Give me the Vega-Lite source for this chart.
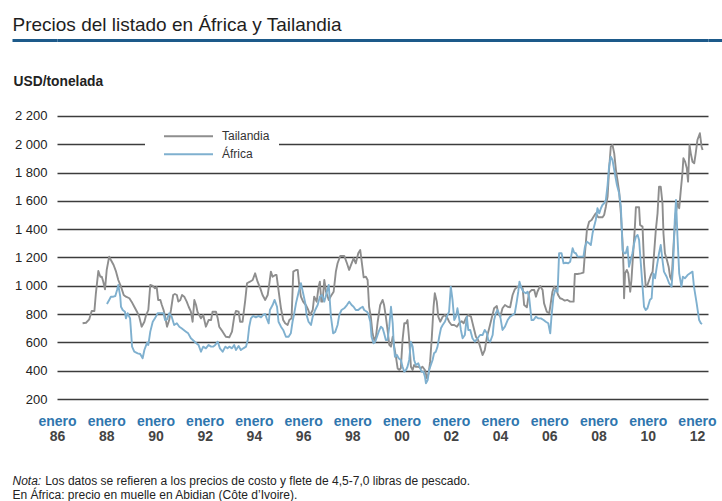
{
"$schema": "https://vega.github.io/schema/vega-lite/v6.json",
"width": 651, "height": 359,
"autosize": {"type": "none"},
"padding": {"left": 57, "top": 40, "right": 14, "bottom": 102},
"background": "white",
"config": {"view": {"stroke": null}, "font": "Liberation Sans", "axis": {"labelFont": "Liberation Sans", "titleFont": "Liberation Sans"}},
"data": {"values": [
{"s":"Tailandia","t":1987.04,"v":735},{"s":"Tailandia","t":1987.18,"v":739},{"s":"Tailandia","t":1987.31,"v":763},{"s":"Tailandia","t":1987.41,"v":822},{"s":"Tailandia","t":1987.52,"v":822},{"s":"Tailandia","t":1987.58,"v":947},{"s":"Tailandia","t":1987.68,"v":1105},{"s":"Tailandia","t":1987.76,"v":1064},{"s":"Tailandia","t":1987.82,"v":1064},{"s":"Tailandia","t":1987.88,"v":1029},{"s":"Tailandia","t":1987.95,"v":975},{"s":"Tailandia","t":1988.02,"v":1112},{"s":"Tailandia","t":1988.12,"v":1206},{"s":"Tailandia","t":1988.19,"v":1182},{"s":"Tailandia","t":1988.30,"v":1147},{"s":"Tailandia","t":1988.40,"v":1100},{"s":"Tailandia","t":1988.49,"v":1041},{"s":"Tailandia","t":1988.60,"v":994},{"s":"Tailandia","t":1988.71,"v":935},{"s":"Tailandia","t":1988.80,"v":923},{"s":"Tailandia","t":1988.94,"v":912},{"s":"Tailandia","t":1989.03,"v":888},{"s":"Tailandia","t":1989.14,"v":852},{"s":"Tailandia","t":1989.25,"v":817},{"s":"Tailandia","t":1989.34,"v":782},{"s":"Tailandia","t":1989.44,"v":711},{"s":"Tailandia","t":1989.55,"v":746},{"s":"Tailandia","t":1989.61,"v":787},{"s":"Tailandia","t":1989.71,"v":829},{"s":"Tailandia","t":1989.79,"v":1006},{"s":"Tailandia","t":1989.89,"v":999},{"s":"Tailandia","t":1989.98,"v":982},{"s":"Tailandia","t":1990.05,"v":992},{"s":"Tailandia","t":1990.11,"v":900},{"s":"Tailandia","t":1990.20,"v":900},{"s":"Tailandia","t":1990.26,"v":864},{"s":"Tailandia","t":1990.33,"v":829},{"s":"Tailandia","t":1990.40,"v":777},{"s":"Tailandia","t":1990.47,"v":711},{"s":"Tailandia","t":1990.56,"v":758},{"s":"Tailandia","t":1990.63,"v":829},{"s":"Tailandia","t":1990.72,"v":935},{"s":"Tailandia","t":1990.79,"v":942},{"s":"Tailandia","t":1990.87,"v":935},{"s":"Tailandia","t":1990.93,"v":888},{"s":"Tailandia","t":1991.01,"v":900},{"s":"Tailandia","t":1991.08,"v":935},{"s":"Tailandia","t":1991.17,"v":923},{"s":"Tailandia","t":1991.27,"v":888},{"s":"Tailandia","t":1991.35,"v":852},{"s":"Tailandia","t":1991.44,"v":817},{"s":"Tailandia","t":1991.51,"v":746},{"s":"Tailandia","t":1991.58,"v":900},{"s":"Tailandia","t":1991.65,"v":864},{"s":"Tailandia","t":1991.71,"v":815},{"s":"Tailandia","t":1991.85,"v":770},{"s":"Tailandia","t":1991.94,"v":794},{"s":"Tailandia","t":1992.05,"v":711},{"s":"Tailandia","t":1992.16,"v":758},{"s":"Tailandia","t":1992.26,"v":758},{"s":"Tailandia","t":1992.32,"v":817},{"s":"Tailandia","t":1992.46,"v":817},{"s":"Tailandia","t":1992.53,"v":770},{"s":"Tailandia","t":1992.59,"v":711},{"s":"Tailandia","t":1992.73,"v":676},{"s":"Tailandia","t":1992.86,"v":640},{"s":"Tailandia","t":1993.00,"v":636},{"s":"Tailandia","t":1993.11,"v":676},{"s":"Tailandia","t":1993.20,"v":782},{"s":"Tailandia","t":1993.27,"v":822},{"s":"Tailandia","t":1993.38,"v":817},{"s":"Tailandia","t":1993.44,"v":746},{"s":"Tailandia","t":1993.54,"v":746},{"s":"Tailandia","t":1993.65,"v":900},{"s":"Tailandia","t":1993.72,"v":1018},{"s":"Tailandia","t":1993.84,"v":1029},{"s":"Tailandia","t":1993.95,"v":1041},{"s":"Tailandia","t":1994.05,"v":1088},{"s":"Tailandia","t":1994.15,"v":1029},{"s":"Tailandia","t":1994.26,"v":982},{"s":"Tailandia","t":1994.35,"v":935},{"s":"Tailandia","t":1994.46,"v":900},{"s":"Tailandia","t":1994.56,"v":935},{"s":"Tailandia","t":1994.62,"v":1006},{"s":"Tailandia","t":1994.69,"v":1100},{"s":"Tailandia","t":1994.76,"v":1064},{"s":"Tailandia","t":1994.87,"v":1076},{"s":"Tailandia","t":1994.92,"v":1076},{"s":"Tailandia","t":1995.00,"v":970},{"s":"Tailandia","t":1995.10,"v":841},{"s":"Tailandia","t":1995.19,"v":758},{"s":"Tailandia","t":1995.27,"v":735},{"s":"Tailandia","t":1995.37,"v":723},{"s":"Tailandia","t":1995.44,"v":758},{"s":"Tailandia","t":1995.53,"v":770},{"s":"Tailandia","t":1995.60,"v":1100},{"s":"Tailandia","t":1995.71,"v":1112},{"s":"Tailandia","t":1995.78,"v":1112},{"s":"Tailandia","t":1995.84,"v":1006},{"s":"Tailandia","t":1995.91,"v":923},{"s":"Tailandia","t":1996.00,"v":888},{"s":"Tailandia","t":1996.11,"v":864},{"s":"Tailandia","t":1996.21,"v":829},{"s":"Tailandia","t":1996.28,"v":794},{"s":"Tailandia","t":1996.39,"v":829},{"s":"Tailandia","t":1996.45,"v":923},{"s":"Tailandia","t":1996.55,"v":888},{"s":"Tailandia","t":1996.63,"v":994},{"s":"Tailandia","t":1996.68,"v":1029},{"s":"Tailandia","t":1996.74,"v":888},{"s":"Tailandia","t":1996.79,"v":888},{"s":"Tailandia","t":1996.86,"v":1041},{"s":"Tailandia","t":1996.93,"v":958},{"s":"Tailandia","t":1997.04,"v":900},{"s":"Tailandia","t":1997.13,"v":928},{"s":"Tailandia","t":1997.24,"v":958},{"s":"Tailandia","t":1997.33,"v":1100},{"s":"Tailandia","t":1997.40,"v":1159},{"s":"Tailandia","t":1997.51,"v":1211},{"s":"Tailandia","t":1997.67,"v":1211},{"s":"Tailandia","t":1997.78,"v":1159},{"s":"Tailandia","t":1997.87,"v":1112},{"s":"Tailandia","t":1997.97,"v":1159},{"s":"Tailandia","t":1998.05,"v":1194},{"s":"Tailandia","t":1998.14,"v":1159},{"s":"Tailandia","t":1998.24,"v":1230},{"s":"Tailandia","t":1998.32,"v":1253},{"s":"Tailandia","t":1998.38,"v":1170},{"s":"Tailandia","t":1998.46,"v":1060},{"s":"Tailandia","t":1998.55,"v":1064},{"s":"Tailandia","t":1998.62,"v":1041},{"s":"Tailandia","t":1998.68,"v":852},{"s":"Tailandia","t":1998.75,"v":782},{"s":"Tailandia","t":1998.82,"v":664},{"s":"Tailandia","t":1998.89,"v":617},{"s":"Tailandia","t":1998.96,"v":640},{"s":"Tailandia","t":1999.03,"v":746},{"s":"Tailandia","t":1999.13,"v":864},{"s":"Tailandia","t":1999.23,"v":900},{"s":"Tailandia","t":1999.29,"v":864},{"s":"Tailandia","t":1999.36,"v":782},{"s":"Tailandia","t":1999.43,"v":688},{"s":"Tailandia","t":1999.50,"v":582},{"s":"Tailandia","t":1999.57,"v":570},{"s":"Tailandia","t":1999.64,"v":640},{"s":"Tailandia","t":1999.70,"v":570},{"s":"Tailandia","t":1999.77,"v":499},{"s":"Tailandia","t":1999.84,"v":417},{"s":"Tailandia","t":1999.90,"v":405},{"s":"Tailandia","t":1999.97,"v":417},{"s":"Tailandia","t":2000.04,"v":617},{"s":"Tailandia","t":2000.11,"v":735},{"s":"Tailandia","t":2000.18,"v":735},{"s":"Tailandia","t":2000.24,"v":758},{"s":"Tailandia","t":2000.31,"v":617},{"s":"Tailandia","t":2000.38,"v":428},{"s":"Tailandia","t":2000.45,"v":405},{"s":"Tailandia","t":2000.51,"v":440},{"s":"Tailandia","t":2000.58,"v":428},{"s":"Tailandia","t":2000.68,"v":428},{"s":"Tailandia","t":2000.78,"v":417},{"s":"Tailandia","t":2000.85,"v":428},{"s":"Tailandia","t":2000.95,"v":405},{"s":"Tailandia","t":2001.03,"v":346},{"s":"Tailandia","t":2001.10,"v":382},{"s":"Tailandia","t":2001.16,"v":464},{"s":"Tailandia","t":2001.23,"v":640},{"s":"Tailandia","t":2001.30,"v":852},{"s":"Tailandia","t":2001.35,"v":947},{"s":"Tailandia","t":2001.43,"v":888},{"s":"Tailandia","t":2001.49,"v":782},{"s":"Tailandia","t":2001.57,"v":746},{"s":"Tailandia","t":2001.67,"v":782},{"s":"Tailandia","t":2001.76,"v":794},{"s":"Tailandia","t":2001.87,"v":770},{"s":"Tailandia","t":2001.93,"v":746},{"s":"Tailandia","t":2002.03,"v":723},{"s":"Tailandia","t":2002.14,"v":723},{"s":"Tailandia","t":2002.25,"v":711},{"s":"Tailandia","t":2002.34,"v":735},{"s":"Tailandia","t":2002.44,"v":750},{"s":"Tailandia","t":2002.52,"v":735},{"s":"Tailandia","t":2002.61,"v":770},{"s":"Tailandia","t":2002.71,"v":794},{"s":"Tailandia","t":2002.82,"v":782},{"s":"Tailandia","t":2002.92,"v":711},{"s":"Tailandia","t":2003.02,"v":640},{"s":"Tailandia","t":2003.11,"v":617},{"s":"Tailandia","t":2003.19,"v":570},{"s":"Tailandia","t":2003.29,"v":511},{"s":"Tailandia","t":2003.38,"v":546},{"s":"Tailandia","t":2003.47,"v":640},{"s":"Tailandia","t":2003.56,"v":700},{"s":"Tailandia","t":2003.66,"v":770},{"s":"Tailandia","t":2003.76,"v":841},{"s":"Tailandia","t":2003.87,"v":857},{"s":"Tailandia","t":2003.92,"v":806},{"s":"Tailandia","t":2004.01,"v":782},{"s":"Tailandia","t":2004.10,"v":841},{"s":"Tailandia","t":2004.20,"v":864},{"s":"Tailandia","t":2004.31,"v":852},{"s":"Tailandia","t":2004.41,"v":848},{"s":"Tailandia","t":2004.51,"v":935},{"s":"Tailandia","t":2004.60,"v":975},{"s":"Tailandia","t":2004.71,"v":994},{"s":"Tailandia","t":2004.82,"v":994},{"s":"Tailandia","t":2004.92,"v":982},{"s":"Tailandia","t":2004.98,"v":864},{"s":"Tailandia","t":2005.09,"v":848},{"s":"Tailandia","t":2005.18,"v":951},{"s":"Tailandia","t":2005.28,"v":970},{"s":"Tailandia","t":2005.39,"v":970},{"s":"Tailandia","t":2005.46,"v":923},{"s":"Tailandia","t":2005.52,"v":958},{"s":"Tailandia","t":2005.63,"v":999},{"s":"Tailandia","t":2005.73,"v":970},{"s":"Tailandia","t":2005.79,"v":876},{"s":"Tailandia","t":2005.90,"v":817},{"s":"Tailandia","t":2006.00,"v":806},{"s":"Tailandia","t":2006.06,"v":876},{"s":"Tailandia","t":2006.13,"v":958},{"s":"Tailandia","t":2006.20,"v":994},{"s":"Tailandia","t":2006.27,"v":982},{"s":"Tailandia","t":2006.36,"v":935},{"s":"Tailandia","t":2006.44,"v":912},{"s":"Tailandia","t":2006.54,"v":905},{"s":"Tailandia","t":2006.63,"v":895},{"s":"Tailandia","t":2006.74,"v":900},{"s":"Tailandia","t":2006.85,"v":888},{"s":"Tailandia","t":2006.99,"v":888},{"s":"Tailandia","t":2007.04,"v":1083},{"s":"Tailandia","t":2007.15,"v":1083},{"s":"Tailandia","t":2007.28,"v":1088},{"s":"Tailandia","t":2007.39,"v":1093},{"s":"Tailandia","t":2007.45,"v":1230},{"s":"Tailandia","t":2007.53,"v":1394},{"s":"Tailandia","t":2007.62,"v":1453},{"s":"Tailandia","t":2007.72,"v":1465},{"s":"Tailandia","t":2007.80,"v":1488},{"s":"Tailandia","t":2007.89,"v":1512},{"s":"Tailandia","t":2007.99,"v":1484},{"s":"Tailandia","t":2008.07,"v":1484},{"s":"Tailandia","t":2008.16,"v":1484},{"s":"Tailandia","t":2008.23,"v":1500},{"s":"Tailandia","t":2008.30,"v":1559},{"s":"Tailandia","t":2008.37,"v":1630},{"s":"Tailandia","t":2008.43,"v":1818},{"s":"Tailandia","t":2008.50,"v":1983},{"s":"Tailandia","t":2008.57,"v":1995},{"s":"Tailandia","t":2008.64,"v":1936},{"s":"Tailandia","t":2008.71,"v":1818},{"s":"Tailandia","t":2008.77,"v":1748},{"s":"Tailandia","t":2008.84,"v":1665},{"s":"Tailandia","t":2008.91,"v":1512},{"s":"Tailandia","t":2008.98,"v":1300},{"s":"Tailandia","t":2009.02,"v":1112},{"s":"Tailandia","t":2009.04,"v":912},{"s":"Tailandia","t":2009.08,"v":1088},{"s":"Tailandia","t":2009.15,"v":1112},{"s":"Tailandia","t":2009.21,"v":1088},{"s":"Tailandia","t":2009.29,"v":958},{"s":"Tailandia","t":2009.34,"v":1041},{"s":"Tailandia","t":2009.41,"v":1230},{"s":"Tailandia","t":2009.48,"v":1418},{"s":"Tailandia","t":2009.52,"v":1555},{"s":"Tailandia","t":2009.65,"v":1555},{"s":"Tailandia","t":2009.69,"v":1430},{"s":"Tailandia","t":2009.79,"v":1418},{"s":"Tailandia","t":2009.85,"v":1159},{"s":"Tailandia","t":2009.92,"v":994},{"s":"Tailandia","t":2009.99,"v":1006},{"s":"Tailandia","t":2010.06,"v":1041},{"s":"Tailandia","t":2010.13,"v":1076},{"s":"Tailandia","t":2010.20,"v":1100},{"s":"Tailandia","t":2010.26,"v":1230},{"s":"Tailandia","t":2010.33,"v":1394},{"s":"Tailandia","t":2010.40,"v":1512},{"s":"Tailandia","t":2010.46,"v":1700},{"s":"Tailandia","t":2010.53,"v":1700},{"s":"Tailandia","t":2010.60,"v":1583},{"s":"Tailandia","t":2010.64,"v":1371},{"s":"Tailandia","t":2010.70,"v":1230},{"s":"Tailandia","t":2010.78,"v":1182},{"s":"Tailandia","t":2010.85,"v":1135},{"s":"Tailandia","t":2010.91,"v":1064},{"s":"Tailandia","t":2010.97,"v":1041},{"s":"Tailandia","t":2011.01,"v":1159},{"s":"Tailandia","t":2011.07,"v":1347},{"s":"Tailandia","t":2011.14,"v":1512},{"s":"Tailandia","t":2011.21,"v":1583},{"s":"Tailandia","t":2011.28,"v":1548},{"s":"Tailandia","t":2011.34,"v":1665},{"s":"Tailandia","t":2011.41,"v":1795},{"s":"Tailandia","t":2011.45,"v":1901},{"s":"Tailandia","t":2011.52,"v":1877},{"s":"Tailandia","t":2011.59,"v":1830},{"s":"Tailandia","t":2011.64,"v":1736},{"s":"Tailandia","t":2011.70,"v":1995},{"s":"Tailandia","t":2011.75,"v":1936},{"s":"Tailandia","t":2011.82,"v":1877},{"s":"Tailandia","t":2011.89,"v":1866},{"s":"Tailandia","t":2011.95,"v":1936},{"s":"Tailandia","t":2012.02,"v":2030},{"s":"Tailandia","t":2012.12,"v":2078},{"s":"Tailandia","t":2012.19,"v":1983},{"s":"Tailandia","t":2012.23,"v":1960},
{"s":"África","t":1988.03,"v":871},{"s":"África","t":1988.12,"v":900},{"s":"África","t":1988.19,"v":923},{"s":"África","t":1988.29,"v":923},{"s":"África","t":1988.37,"v":928},{"s":"África","t":1988.44,"v":970},{"s":"África","t":1988.49,"v":1006},{"s":"África","t":1988.57,"v":923},{"s":"África","t":1988.60,"v":852},{"s":"África","t":1988.67,"v":829},{"s":"África","t":1988.76,"v":817},{"s":"África","t":1988.80,"v":770},{"s":"África","t":1988.87,"v":806},{"s":"África","t":1988.97,"v":770},{"s":"África","t":1989.05,"v":570},{"s":"África","t":1989.14,"v":534},{"s":"África","t":1989.28,"v":523},{"s":"África","t":1989.38,"v":518},{"s":"África","t":1989.48,"v":488},{"s":"África","t":1989.55,"v":546},{"s":"África","t":1989.66,"v":598},{"s":"África","t":1989.71,"v":582},{"s":"África","t":1989.79,"v":676},{"s":"África","t":1989.89,"v":746},{"s":"África","t":1989.98,"v":770},{"s":"África","t":1990.09,"v":806},{"s":"África","t":1990.22,"v":806},{"s":"África","t":1990.33,"v":806},{"s":"África","t":1990.39,"v":758},{"s":"África","t":1990.47,"v":763},{"s":"África","t":1990.56,"v":806},{"s":"África","t":1990.66,"v":782},{"s":"África","t":1990.76,"v":723},{"s":"África","t":1990.87,"v":735},{"s":"África","t":1990.97,"v":711},{"s":"África","t":1991.06,"v":700},{"s":"África","t":1991.15,"v":688},{"s":"África","t":1991.24,"v":676},{"s":"África","t":1991.33,"v":664},{"s":"África","t":1991.44,"v":629},{"s":"África","t":1991.55,"v":612},{"s":"África","t":1991.65,"v":596},{"s":"África","t":1991.75,"v":582},{"s":"África","t":1991.85,"v":534},{"s":"África","t":1991.94,"v":570},{"s":"África","t":1992.05,"v":558},{"s":"África","t":1992.16,"v":582},{"s":"África","t":1992.26,"v":570},{"s":"África","t":1992.34,"v":570},{"s":"África","t":1992.43,"v":582},{"s":"África","t":1992.53,"v":605},{"s":"África","t":1992.62,"v":558},{"s":"África","t":1992.73,"v":534},{"s":"África","t":1992.84,"v":570},{"s":"África","t":1992.93,"v":558},{"s":"África","t":1993.00,"v":570},{"s":"África","t":1993.11,"v":558},{"s":"África","t":1993.20,"v":582},{"s":"África","t":1993.27,"v":546},{"s":"África","t":1993.38,"v":575},{"s":"África","t":1993.47,"v":546},{"s":"África","t":1993.57,"v":558},{"s":"África","t":1993.68,"v":570},{"s":"África","t":1993.75,"v":617},{"s":"África","t":1993.81,"v":711},{"s":"África","t":1993.88,"v":770},{"s":"África","t":1993.97,"v":787},{"s":"África","t":1994.08,"v":777},{"s":"África","t":1994.19,"v":787},{"s":"África","t":1994.29,"v":777},{"s":"África","t":1994.38,"v":794},{"s":"África","t":1994.46,"v":801},{"s":"África","t":1994.52,"v":770},{"s":"África","t":1994.60,"v":735},{"s":"África","t":1994.65,"v":829},{"s":"África","t":1994.76,"v":864},{"s":"África","t":1994.84,"v":900},{"s":"África","t":1994.94,"v":852},{"s":"África","t":1995.00,"v":746},{"s":"África","t":1995.10,"v":711},{"s":"África","t":1995.19,"v":688},{"s":"África","t":1995.30,"v":640},{"s":"África","t":1995.41,"v":640},{"s":"África","t":1995.50,"v":664},{"s":"África","t":1995.57,"v":746},{"s":"África","t":1995.64,"v":806},{"s":"África","t":1995.71,"v":876},{"s":"África","t":1995.82,"v":958},{"s":"África","t":1995.91,"v":1018},{"s":"África","t":1996.00,"v":947},{"s":"África","t":1996.09,"v":876},{"s":"África","t":1996.14,"v":794},{"s":"África","t":1996.22,"v":746},{"s":"África","t":1996.32,"v":723},{"s":"África","t":1996.39,"v":782},{"s":"África","t":1996.49,"v":829},{"s":"África","t":1996.59,"v":864},{"s":"África","t":1996.68,"v":923},{"s":"África","t":1996.76,"v":935},{"s":"África","t":1996.86,"v":888},{"s":"África","t":1996.95,"v":947},{"s":"África","t":1997.04,"v":1006},{"s":"África","t":1997.13,"v":782},{"s":"África","t":1997.22,"v":664},{"s":"África","t":1997.30,"v":673},{"s":"África","t":1997.40,"v":723},{"s":"África","t":1997.47,"v":794},{"s":"África","t":1997.56,"v":829},{"s":"África","t":1997.67,"v":841},{"s":"África","t":1997.78,"v":864},{"s":"África","t":1997.87,"v":888},{"s":"África","t":1997.97,"v":864},{"s":"África","t":1998.05,"v":852},{"s":"África","t":1998.14,"v":829},{"s":"África","t":1998.24,"v":829},{"s":"África","t":1998.32,"v":841},{"s":"África","t":1998.42,"v":852},{"s":"África","t":1998.48,"v":829},{"s":"África","t":1998.59,"v":817},{"s":"África","t":1998.64,"v":806},{"s":"África","t":1998.73,"v":746},{"s":"África","t":1998.78,"v":640},{"s":"África","t":1998.86,"v":594},{"s":"África","t":1998.93,"v":605},{"s":"África","t":1999.00,"v":640},{"s":"África","t":1999.07,"v":676},{"s":"África","t":1999.16,"v":711},{"s":"África","t":1999.23,"v":700},{"s":"África","t":1999.29,"v":664},{"s":"África","t":1999.36,"v":617},{"s":"África","t":1999.43,"v":617},{"s":"África","t":1999.50,"v":711},{"s":"África","t":1999.57,"v":852},{"s":"África","t":1999.64,"v":735},{"s":"África","t":1999.68,"v":594},{"s":"África","t":1999.73,"v":499},{"s":"África","t":1999.81,"v":511},{"s":"África","t":1999.88,"v":488},{"s":"África","t":1999.97,"v":476},{"s":"África","t":2000.04,"v":428},{"s":"África","t":2000.11,"v":393},{"s":"África","t":2000.18,"v":405},{"s":"África","t":2000.24,"v":428},{"s":"África","t":2000.31,"v":476},{"s":"África","t":2000.38,"v":605},{"s":"África","t":2000.45,"v":570},{"s":"África","t":2000.51,"v":476},{"s":"África","t":2000.58,"v":440},{"s":"África","t":2000.68,"v":452},{"s":"África","t":2000.76,"v":417},{"s":"África","t":2000.81,"v":393},{"s":"África","t":2000.89,"v":393},{"s":"África","t":2000.95,"v":358},{"s":"África","t":2000.99,"v":311},{"s":"África","t":2001.06,"v":334},{"s":"África","t":2001.12,"v":405},{"s":"África","t":2001.19,"v":440},{"s":"África","t":2001.26,"v":476},{"s":"África","t":2001.32,"v":523},{"s":"África","t":2001.39,"v":534},{"s":"África","t":2001.46,"v":570},{"s":"África","t":2001.53,"v":640},{"s":"África","t":2001.60,"v":700},{"s":"África","t":2001.67,"v":723},{"s":"África","t":2001.76,"v":746},{"s":"África","t":2001.84,"v":782},{"s":"África","t":2001.93,"v":817},{"s":"África","t":2002.00,"v":994},{"s":"África","t":2002.07,"v":900},{"s":"África","t":2002.14,"v":758},{"s":"África","t":2002.21,"v":782},{"s":"África","t":2002.27,"v":841},{"s":"África","t":2002.34,"v":770},{"s":"África","t":2002.41,"v":688},{"s":"África","t":2002.48,"v":629},{"s":"África","t":2002.57,"v":652},{"s":"África","t":2002.65,"v":782},{"s":"África","t":2002.71,"v":688},{"s":"África","t":2002.79,"v":688},{"s":"África","t":2002.88,"v":629},{"s":"África","t":2002.98,"v":605},{"s":"África","t":2003.09,"v":629},{"s":"África","t":2003.19,"v":652},{"s":"África","t":2003.29,"v":652},{"s":"África","t":2003.38,"v":688},{"s":"África","t":2003.47,"v":664},{"s":"África","t":2003.52,"v":617},{"s":"África","t":2003.60,"v":605},{"s":"África","t":2003.70,"v":652},{"s":"África","t":2003.76,"v":758},{"s":"África","t":2003.83,"v":806},{"s":"África","t":2003.90,"v":829},{"s":"África","t":2004.01,"v":782},{"s":"África","t":2004.10,"v":688},{"s":"África","t":2004.20,"v":711},{"s":"África","t":2004.31,"v":758},{"s":"África","t":2004.41,"v":782},{"s":"África","t":2004.51,"v":794},{"s":"África","t":2004.60,"v":806},{"s":"África","t":2004.68,"v":888},{"s":"África","t":2004.74,"v":958},{"s":"África","t":2004.79,"v":1029},{"s":"África","t":2004.87,"v":982},{"s":"África","t":2004.95,"v":958},{"s":"África","t":2005.05,"v":947},{"s":"África","t":2005.12,"v":958},{"s":"África","t":2005.18,"v":923},{"s":"África","t":2005.28,"v":758},{"s":"África","t":2005.36,"v":758},{"s":"África","t":2005.46,"v":782},{"s":"África","t":2005.55,"v":770},{"s":"África","t":2005.66,"v":770},{"s":"África","t":2005.77,"v":758},{"s":"África","t":2005.86,"v":746},{"s":"África","t":2005.96,"v":735},{"s":"África","t":2006.04,"v":664},{"s":"África","t":2006.09,"v":782},{"s":"África","t":2006.17,"v":923},{"s":"África","t":2006.24,"v":970},{"s":"África","t":2006.34,"v":958},{"s":"África","t":2006.40,"v":1230},{"s":"África","t":2006.50,"v":1230},{"s":"África","t":2006.58,"v":1159},{"s":"África","t":2006.67,"v":1163},{"s":"África","t":2006.77,"v":1159},{"s":"África","t":2006.85,"v":1170},{"s":"África","t":2006.95,"v":1265},{"s":"África","t":2007.01,"v":1235},{"s":"África","t":2007.08,"v":1230},{"s":"África","t":2007.15,"v":1206},{"s":"África","t":2007.28,"v":1206},{"s":"África","t":2007.39,"v":1206},{"s":"África","t":2007.45,"v":1276},{"s":"África","t":2007.53,"v":1312},{"s":"África","t":2007.62,"v":1300},{"s":"África","t":2007.69,"v":1288},{"s":"África","t":2007.76,"v":1371},{"s":"África","t":2007.82,"v":1418},{"s":"África","t":2007.89,"v":1465},{"s":"África","t":2007.96,"v":1548},{"s":"África","t":2008.03,"v":1512},{"s":"África","t":2008.10,"v":1548},{"s":"África","t":2008.16,"v":1571},{"s":"África","t":2008.23,"v":1583},{"s":"África","t":2008.30,"v":1606},{"s":"África","t":2008.37,"v":1712},{"s":"África","t":2008.43,"v":1842},{"s":"África","t":2008.50,"v":1912},{"s":"África","t":2008.57,"v":1889},{"s":"África","t":2008.64,"v":1818},{"s":"África","t":2008.75,"v":1712},{"s":"África","t":2008.84,"v":1654},{"s":"África","t":2008.91,"v":1559},{"s":"África","t":2008.98,"v":1253},{"s":"África","t":2009.04,"v":1230},{"s":"África","t":2009.11,"v":1230},{"s":"África","t":2009.18,"v":1276},{"s":"África","t":2009.24,"v":1135},{"s":"África","t":2009.31,"v":1182},{"s":"África","t":2009.38,"v":1230},{"s":"África","t":2009.45,"v":1300},{"s":"África","t":2009.52,"v":1347},{"s":"África","t":2009.59,"v":1359},{"s":"África","t":2009.65,"v":1324},{"s":"África","t":2009.72,"v":1159},{"s":"África","t":2009.79,"v":994},{"s":"África","t":2009.85,"v":852},{"s":"África","t":2009.92,"v":829},{"s":"África","t":2009.99,"v":841},{"s":"África","t":2010.09,"v":900},{"s":"África","t":2010.16,"v":912},{"s":"África","t":2010.23,"v":1088},{"s":"África","t":2010.30,"v":1053},{"s":"África","t":2010.37,"v":1135},{"s":"África","t":2010.46,"v":1230},{"s":"África","t":2010.53,"v":1288},{"s":"África","t":2010.60,"v":1182},{"s":"África","t":2010.66,"v":1100},{"s":"África","t":2010.77,"v":1064},{"s":"África","t":2010.87,"v":1018},{"s":"África","t":2010.97,"v":994},{"s":"África","t":2011.03,"v":1135},{"s":"África","t":2011.10,"v":1465},{"s":"África","t":2011.15,"v":1606},{"s":"África","t":2011.21,"v":1347},{"s":"África","t":2011.28,"v":1088},{"s":"África","t":2011.37,"v":994},{"s":"África","t":2011.43,"v":1064},{"s":"África","t":2011.51,"v":1053},{"s":"África","t":2011.62,"v":1076},{"s":"África","t":2011.72,"v":1088},{"s":"África","t":2011.82,"v":1100},{"s":"África","t":2011.88,"v":994},{"s":"África","t":2011.99,"v":876},{"s":"África","t":2012.09,"v":758},{"s":"África","t":2012.16,"v":735},{"s":"África","t":2012.21,"v":730}
]},
"resolve": {"axis": {"x": "independent", "y": "independent"}},
"layer": [
{
"mark": {"type": "line", "strokeWidth": 1.9, "strokeJoin": "round"},
"encoding": {
"x": {"field": "t", "type": "quantitative", "scale": {"domain": [1986, 2012.45], "nice": false, "zero": false},
 "axis": {"orient": "bottom", "values": [1986,1988,1990,1992,1994,1996,1998,2000,2002,2004,2006,2008,2010,2012], "labelExpr": "'enero'", "labelColor": "#2f76ae", "labelFontWeight": "bold", "labelFontSize": 14, "labelBaseline": "alphabetic", "labelPadding": 26, "labelFlush": false, "labelOverlap": false, "labelBound": false, "ticks": false, "tickSize": 0, "domain": false, "grid": false,
  "title": "Precios del listado en África y Tailandia", "titleX": -45, "titleY": -369, "titleAlign": "left", "titleAnchor": "start", "titleBaseline": "alphabetic", "titleFontSize": 19, "titleFontWeight": "normal", "titleColor": "#1e1e1e"}},
"y": {"field": "v", "type": "quantitative", "scale": {"domain": [200, 2737], "nice": false, "zero": false},
 "axis": {"orient": "left", "values": [200,400,600,800,1000,1200,1400,1600,1800,2000,2200,2737], "labelExpr": "datum.value > 2300 ? '' : replace(format(datum.value, ','), ',', ' ')", "labelPadding": 10, "labelFontSize": 13, "labelColor": "#222222", "ticks": false, "tickSize": 0, "domain": false, "grid": true,
  "gridColor": {"condition": {"test": "datum.value > 2300", "value": "#1d5a8a"}, "value": "#3c3c3c"},
  "gridWidth": {"condition": {"test": "datum.value > 2300", "value": 3}, "value": 1.3},
  "title": "USD/tonelada", "titleAngle": 0, "titleX": -44, "titleY": 45, "titleAlign": "left", "titleAnchor": "start", "titleBaseline": "alphabetic", "titleFontSize": 13.8, "titleFontWeight": "bold", "titleColor": "#222222"}},
"color": {"field": "s", "type": "nominal", "scale": {"domain": ["Tailandia", "África"], "range": ["#8e8e8e", "#7fb0cf"]},
 "legend": {"orient": "none", "legendX": 88, "legendY": 79.5, "title": null, "fillColor": "white", "padding": 9, "symbolType": "stroke", "symbolSize": 2401, "symbolStrokeWidth": 2, "symbolOffset": 9, "labelOffset": 8, "labelFontSize": 12, "labelColor": "#333333", "labelFont": "Liberation Sans", "clipHeight": 15.6, "rowPadding": 2}}
}
},
{
"transform": [{"filter": "datum.t < 1987.1"}],
"mark": {"type": "point", "opacity": 0},
"encoding": {
"x": {"field": "t", "type": "quantitative",
 "axis": {"orient": "bottom", "values": [1986,1988,1990,1992,1994,1996,1998,2000,2002,2004,2006,2008,2010,2012], "format": "d", "labelExpr": "slice(datum.label, 2)", "labelColor": "#444444", "labelFontWeight": "bold", "labelFontSize": 14, "labelBaseline": "alphabetic", "labelPadding": 41, "labelFlush": false, "labelOverlap": false, "labelBound": false, "ticks": false, "tickSize": 0, "domain": false, "grid": false,
  "title": "Nota:", "titleX": -45, "titleY": 85, "titleAlign": "left", "titleAnchor": "start", "titleBaseline": "alphabetic", "titleFontSize": 12, "titleFontWeight": "normal", "titleFontStyle": "italic", "titleColor": "#222222"}},
"y": {"field": "v", "type": "quantitative",
 "axis": {"orient": "left", "values": [2737], "labels": false, "grid": false, "domain": false, "ticks": true, "tickSize": 45, "tickWidth": 3, "tickColor": "#1d5a8a", "tickCap": "butt", "title": null}}
}
},
{
"transform": [{"filter": "datum.t < 1987.1"}],
"mark": {"type": "point", "opacity": 0},
"encoding": {
"x": {"field": "t", "type": "quantitative",
 "axis": {"orient": "bottom", "labels": false, "ticks": false, "domain": false, "grid": false,
  "title": "Los datos se refieren a los precios de costo y flete de 4,5-7,0 libras de pescado.", "titleX": -12.3, "titleY": 85, "titleAlign": "left", "titleAnchor": "start", "titleBaseline": "alphabetic", "titleFontSize": 12, "titleFontWeight": "normal", "titleColor": "#222222"}},
"y": {"field": "v", "type": "quantitative",
 "axis": {"orient": "right", "values": [2737], "labels": false, "grid": false, "domain": false, "ticks": true, "tickSize": 14, "tickWidth": 3, "tickColor": "#1d5a8a", "tickCap": "butt", "title": null}}
}
},
{
"transform": [{"filter": "datum.t < 1987.1"}],
"mark": {"type": "point", "opacity": 0},
"encoding": {
"x": {"field": "t", "type": "quantitative",
 "axis": {"orient": "bottom", "labels": false, "ticks": false, "domain": false, "grid": false,
  "title": "En África: precio en muelle en Abidian (Côte d’Ivoire).", "titleX": -45, "titleY": 99, "titleAlign": "left", "titleAnchor": "start", "titleBaseline": "alphabetic", "titleFontSize": 12, "titleFontWeight": "normal", "titleColor": "#222222"}},
"y": {"field": "v", "type": "quantitative", "axis": null}
}
}
]
}
